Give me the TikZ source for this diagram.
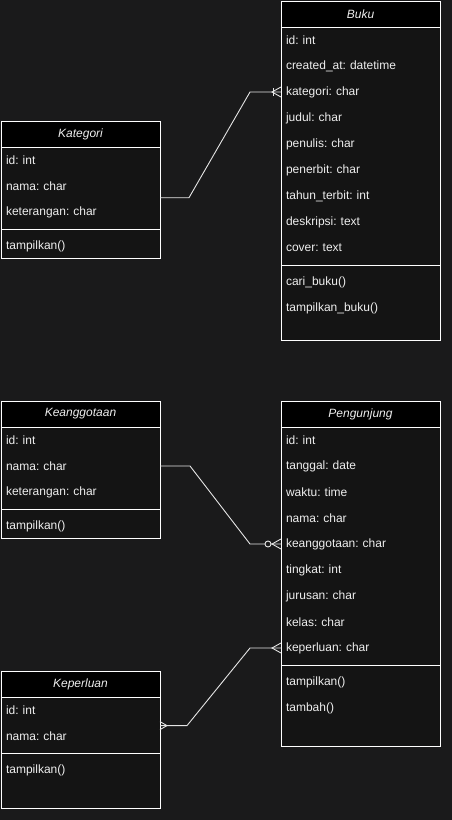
\documentclass[tikz,border=0pt]{standalone}
\usepackage{fontspec}
\setmainfont{Liberation Sans}
\usetikzlibrary{positioning,calc}
\definecolor{hg}{HTML}{1A1A1B}
\definecolor{innen}{HTML}{141414}
\definecolor{schrift}{HTML}{EEEEEE}

\begin{document}
\frenchspacing
\begin{tikzpicture}[x=1pt,y=-1pt,line width=1pt,
	every node/.style={font=\fontsize{12}{14}\selectfont,text=schrift,outer sep=0pt},
	kopf/.style={draw=white,fill=black,anchor=north west,minimum width=159pt,minimum height=26pt,inner sep=0pt,font=\fontsize{12}{14}\selectfont\itshape},
	zeile/.style={minimum width=159pt,minimum height=26pt,text width=149pt,inner sep=0pt,align=left},
	klasse/.style={draw=white,fill=innen},
	verb/.style={draw=white!90!black,line width=0.9pt}]

	\fill[hg] (0,0) rectangle (452,820);
	\useasboundingbox (0,0) rectangle (452,820);

	% Buku
	\draw[klasse] (281,1) rectangle ++(159,339);
	\node[kopf] (buku) at (281,1) {Buku};
	\node[zeile,below=0pt of buku] (buku1) {id: int};
	\node[zeile,below=0pt of buku1] (buku2) {created\_at: datetime};
	\node[zeile,below=0pt of buku2] (buku3) {kategori: char};
	\node[zeile,below=0pt of buku3] (buku4) {judul: char};
	\node[zeile,below=0pt of buku4] (buku5) {penulis: char};
	\node[zeile,below=0pt of buku5] (buku6) {penerbit: char};
	\node[zeile,below=0pt of buku6] (buku7) {tahun\_terbit: int};
	\node[zeile,below=0pt of buku7] (buku8) {deskripsi: text};
	\node[zeile,below=0pt of buku8] (buku9) {cover: text};
	\draw[white] ([yshift=-4pt]buku9.south west) -- ([yshift=-4pt]buku9.south east);
	\node[zeile,below=8pt of buku9] (buku10) {cari\_buku()};
	\node[zeile,below=0pt of buku10] (buku11) {tampilkan\_buku()};

	% Kategori
	\draw[klasse] (1,121) rectangle ++(159,137);
	\node[kopf] (kat) at (1,121) {Kategori};
	\node[zeile,below=0pt of kat] (kat1) {id: int};
	\node[zeile,below=0pt of kat1] (kat2) {nama: char};
	\node[zeile,below=0pt of kat2] (kat3) {keterangan: char};
	\draw[white] ([yshift=-4pt]kat3.south west) -- ([yshift=-4pt]kat3.south east);
	\node[zeile,below=8pt of kat3] (kat4) {tampilkan()};

	% Keanggotaan
	\draw[klasse] (1,401) rectangle ++(159,137);
	\node[kopf] (ang) at (1,401) {Keanggotaan};
	\node[zeile,below=0pt of ang] (ang1) {id: int};
	\node[zeile,below=0pt of ang1] (ang2) {nama: char};
	\node[zeile,below=0pt of ang2] (ang3) {keterangan: char};
	\draw[white] ([yshift=-4pt]ang3.south west) -- ([yshift=-4pt]ang3.south east);
	\node[zeile,below=8pt of ang3] (ang4) {tampilkan()};

	% Pengunjung
	\draw[klasse] (281,401) rectangle ++(159,345);
	\node[kopf] (pen) at (281,401) {Pengunjung};
	\node[zeile,below=0pt of pen] (pen1) {id: int};
	\node[zeile,below=0pt of pen1] (pen2) {tanggal: date};
	\node[zeile,below=0pt of pen2] (pen3) {waktu: time};
	\node[zeile,below=0pt of pen3] (pen4) {nama: char};
	\node[zeile,below=0pt of pen4] (pen5) {keanggotaan: char};
	\node[zeile,below=0pt of pen5] (pen6) {tingkat: int};
	\node[zeile,below=0pt of pen6] (pen7) {jurusan: char};
	\node[zeile,below=0pt of pen7] (pen8) {kelas: char};
	\node[zeile,below=0pt of pen8] (pen9) {keperluan: char};
	\draw[white] ([yshift=-4pt]pen9.south west) -- ([yshift=-4pt]pen9.south east);
	\node[zeile,below=8pt of pen9] (pen10) {tampilkan()};
	\node[zeile,below=0pt of pen10] (pen11) {tambah()};

	% Keperluan
	\draw[klasse] (1,671) rectangle ++(159,137);
	\node[kopf] (kep) at (1,671) {Keperluan};
	\node[zeile,below=0pt of kep] (kep1) {id: int};
	\node[zeile,below=0pt of kep1] (kep2) {nama: char};
	\draw[white] ([yshift=-4pt]kep2.south west) -- ([yshift=-4pt]kep2.south east);
	\node[zeile,below=8pt of kep2] (kep3) {tampilkan()};

	% Beziehungen
	\coordinate (katmid) at ($(kat2.east)!.45!(kat3.east)$);
	\coordinate (kepmid) at ($(kep1.east)!.6!(kep2.east)$);
	\draw[verb] (katmid) -- ++(29,0) -- ([xshift=-31pt]buku3.west) -- (buku3.west);
	\draw[verb] (ang2.east) -- ++(30,0) -- ([xshift=-31pt]pen5.west) -- (pen5.west);
	\draw[verb] (kepmid) -- ++(27,0) -- ([xshift=-31pt]pen9.west) -- (pen9.west);

	% Kraehenfuesse
	\draw[verb] ([xshift=-8pt,yshift=4pt]buku3.west) -- ([xshift=-8pt,yshift=-4pt]buku3.west);
	\draw[verb] ([yshift=5pt]buku3.west) -- ([xshift=-9pt]buku3.west) -- ([yshift=-5pt]buku3.west);
	\draw[verb,fill=hg] ([xshift=-13pt]pen5.west) circle (3pt);
	\draw[verb] ([yshift=5pt]pen5.west) -- ([xshift=-9pt]pen5.west) -- ([yshift=-5pt]pen5.west);
	\draw[verb] ([yshift=5pt]pen9.west) -- ([xshift=-9pt]pen9.west) -- ([yshift=-5pt]pen9.west);
	\draw[verb] ([yshift=4pt]kepmid) -- ([xshift=7pt]kepmid) -- ([yshift=-4pt]kepmid);
\end{tikzpicture}
\end{document}
